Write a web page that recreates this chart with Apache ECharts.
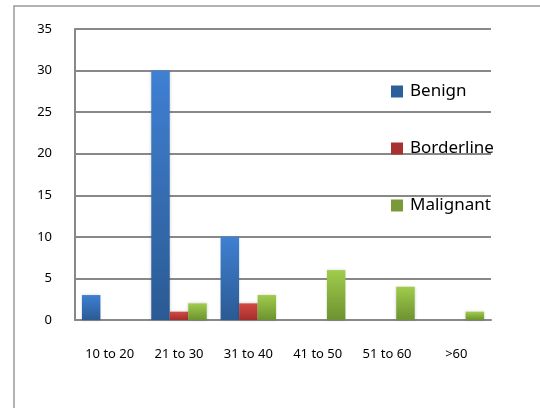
<!DOCTYPE html>
<html>
<head>
<meta charset="utf-8">
<script src="https://cdn.jsdelivr.net/npm/echarts@6/dist/echarts.min.js"></script>
<style>
html, body { margin: 0; padding: 0; background: #fff; }
#main { width: 540px; height: 408px; }
</style>
</head>
<body>
<div id="main"></div>
<script>
var categories = ['10 to 20', '21 to 30', '31 to 40', '41 to 50', '51 to 60', '>60'];
var benign = [3, 30, 10, 0, 0, 0];
var borderline = [0, 1, 2, 0, 0, 0];
var malignant = [0, 2, 3, 6, 4, 1];

var myChart = echarts.init(document.getElementById('main'));

function grad(top, bottom) {
	return new echarts.graphic.LinearGradient(0, 0, 0, 1, [
		{ offset: 0, color: top },
		{ offset: 1, color: bottom }
	]);
}

function barSeries(name, data, top, bottom) {
	return {
		name: name,
		type: 'bar',
		data: data,
		barGap: 0,
		barCategoryGap: '20%',
		itemStyle: {
			color: grad(top, bottom),
			shadowColor: 'rgba(0,0,0,0.18)',
			shadowBlur: 3
		}
	};
}

myChart.setOption({
	backgroundColor: '#fff',
	animation: false,
	textStyle: { fontFamily: 'Noto Sans' },
	graphic: [{
		type: 'rect',
		shape: { x: 14, y: 6, width: 560, height: 420 },
		style: { fill: 'none', stroke: '#999', lineWidth: 1.5 },
		silent: true
	}],
	legend: {
		orient: 'vertical',
		left: 386,
		top: 78,
		itemWidth: 12,
		itemHeight: 12,
		itemGap: 40,
		icon: 'rect',
		textStyle: { fontSize: 17, color: '#000', padding: [0, 0, 0, 2] },
		data: [
			{ name: 'Benign', itemStyle: { color: '#2d5f9a' } },
			{ name: 'Borderline', itemStyle: { color: '#a63232' } },
			{ name: 'Malignant', itemStyle: { color: '#7a9a3a' } }
		]
	},
	grid: { left: 75, right: 49, top: 29, bottom: 88 },
	xAxis: {
		type: 'category',
		data: categories,
		axisLine: { lineStyle: { color: '#888', width: 2 } },
		axisTick: { show: false },
		axisLabel: { color: '#000', fontSize: 13, margin: 28 }
	},
	yAxis: {
		type: 'value',
		min: 0,
		max: 35,
		interval: 5,
		axisLine: { show: true, lineStyle: { color: '#888', width: 2 } },
		axisTick: { show: false },
		splitLine: { lineStyle: { color: '#888', width: 2 } },
		axisLabel: { color: '#000', fontSize: 13, margin: 23 }
	},
	series: [
		barSeries('Benign', benign, '#3f80d2', '#2b5a93'),
		barSeries('Borderline', borderline, '#d44a44', '#a32e2c'),
		barSeries('Malignant', malignant, '#a0cc4c', '#6d9230')
	]
});
</script>
</body>
</html>
